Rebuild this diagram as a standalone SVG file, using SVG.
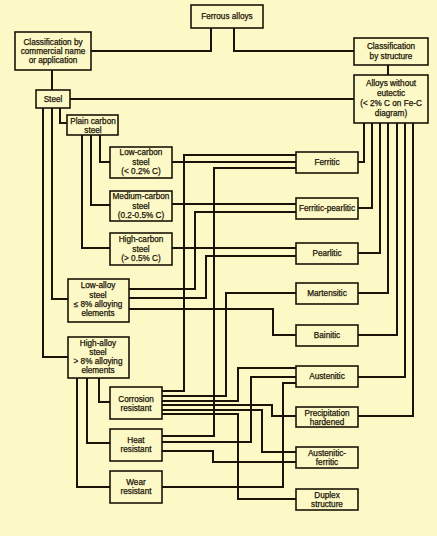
<svg xmlns="http://www.w3.org/2000/svg" width="437" height="536" viewBox="0 0 437 536">
<style>
.bg{fill:#fdf9c6}
.box{fill:#fdf9c6;stroke:#1a1408;stroke-width:1.6}
.t{font-family:"Liberation Sans",Arial,sans-serif;font-size:8.2px;fill:#1a1408;stroke:#1a1408;stroke-width:0.25;text-anchor:middle}
.c path{fill:none;stroke:#1a1408;stroke-width:2}
</style>
<rect class="bg" x="0" y="0" width="437" height="536"/>
<g class="c" id="connectors">
<path d="M211,28V51H91"/>
<path d="M234,28V51H354"/>
<path d="M52,70V90"/>
<path d="M388,65V75"/>
<path d="M70,99H354"/>
<path d="M60,108V123H67"/>
<path d="M52,108V299H68"/>
<path d="M43,108V357H68"/>
<path d="M100,135V162H110"/>
<path d="M91,135V205H110"/>
<path d="M82,135V248H110"/>
<path d="M364,123V162H358"/>
<path d="M372,123V208H358"/>
<path d="M380,123V253H358"/>
<path d="M388,123V293H358"/>
<path d="M397,123V335H358"/>
<path d="M405,123V377H358"/>
<path d="M413,123V416H358"/>
<path d="M172,162H296"/>
<path d="M172,204H296"/>
<path d="M172,248H296"/>
<path d="M162,391H184V155H296"/>
<path d="M162,436H214V168H296"/>
<path d="M129,289H195V212H296"/>
<path d="M129,298H206V256H296"/>
<path d="M129,309H273V335H296"/>
<path d="M162,396H226V293H296"/>
<path d="M162,401H238V368H296"/>
<path d="M162,442H251V377H296"/>
<path d="M162,487H283V383H296"/>
<path d="M162,405H272V416H296"/>
<path d="M162,410H262V452H296"/>
<path d="M162,451H213V462H296"/>
<path d="M162,414H238V499H296"/>
<path d="M99,378V402H110"/>
<path d="M87,378V443H110"/>
<path d="M77,378V487H110"/>
</g>
<g id="ferrous"><rect class="box" x="191" y="5" width="72" height="23"/><text class="t" x="227" y="19">Ferrous alloys</text></g>
<g id="commercial"><rect class="box" x="15" y="32" width="76" height="38"/><text class="t" x="53" y="45">Classification by</text><text class="t" x="53" y="54">commercial name</text><text class="t" x="53" y="63">or application</text></g>
<g id="bystructure"><rect class="box" x="354" y="38" width="74" height="27"/><text class="t" x="391" y="49">Classification</text><text class="t" x="391" y="59">by structure</text></g>
<g id="steel"><rect class="box" x="36" y="90" width="34" height="18"/><text class="t" x="53" y="102">Steel</text></g>
<g id="noeutectic"><rect class="box" x="354" y="75" width="74" height="48"/><text class="t" x="391" y="86">Alloys without</text><text class="t" x="391" y="96">eutectic</text><text class="t" x="391" y="106">(&lt; 2% C on Fe-C</text><text class="t" x="391" y="116">diagram)</text></g>
<g id="plaincarbon"><rect class="box" x="67" y="115" width="51" height="20"/><text class="t" x="93" y="124">Plain carbon</text><text class="t" x="93" y="133">steel</text></g>
<g id="lowcarbon"><rect class="box" x="110" y="147" width="62" height="31"/><text class="t" x="141" y="155">Low-carbon</text><text class="t" x="141" y="165">steel</text><text class="t" x="141" y="174">(&lt; 0.2% C)</text></g>
<g id="mediumcarbon"><rect class="box" x="110" y="191" width="62" height="30"/><text class="t" x="141" y="199">Medium-carbon</text><text class="t" x="141" y="209">steel</text><text class="t" x="141" y="218">(0.2-0.5% C)</text></g>
<g id="highcarbon"><rect class="box" x="110" y="233" width="62" height="32"/><text class="t" x="141" y="242">High-carbon</text><text class="t" x="141" y="252">steel</text><text class="t" x="141" y="261">(&gt; 0.5% C)</text></g>
<g id="lowalloy"><rect class="box" x="68" y="279" width="61" height="43"/><text class="t" x="98" y="288">Low-alloy</text><text class="t" x="98" y="298">steel</text><text class="t" x="98" y="307">≤ 8% alloying</text><text class="t" x="98" y="316">elements</text></g>
<g id="highalloy"><rect class="box" x="68" y="337" width="61" height="41"/><text class="t" x="98" y="346">High-alloy</text><text class="t" x="98" y="355">steel</text><text class="t" x="98" y="364">&gt; 8% alloying</text><text class="t" x="98" y="373">elements</text></g>
<g id="corrosion"><rect class="box" x="110" y="387" width="52" height="32"/><text class="t" x="136" y="402">Corrosion</text><text class="t" x="136" y="411">resistant</text></g>
<g id="heat"><rect class="box" x="110" y="429" width="52" height="32"/><text class="t" x="136" y="443">Heat</text><text class="t" x="136" y="452">resistant</text></g>
<g id="wear"><rect class="box" x="110" y="471" width="52" height="32"/><text class="t" x="136" y="485">Wear</text><text class="t" x="136" y="494">resistant</text></g>
<g id="ferritic"><rect class="box" x="296" y="152" width="62" height="21"/><text class="t" x="327" y="165">Ferritic</text></g>
<g id="ferriticpearlitic"><rect class="box" x="296" y="198" width="62" height="21"/><text class="t" x="327" y="211" textLength="56" lengthAdjust="spacingAndGlyphs">Ferritic-pearlitic</text></g>
<g id="pearlitic"><rect class="box" x="296" y="243" width="62" height="21"/><text class="t" x="327" y="256">Pearlitic</text></g>
<g id="martensitic"><rect class="box" x="296" y="283" width="62" height="21"/><text class="t" x="327" y="296">Martensitic</text></g>
<g id="bainitic"><rect class="box" x="296" y="325" width="62" height="21"/><text class="t" x="327" y="338">Bainitic</text></g>
<g id="austenitic"><rect class="box" x="296" y="366" width="62" height="21"/><text class="t" x="327" y="379">Austenitic</text></g>
<g id="precipitation"><rect class="box" x="296" y="407" width="62" height="20"/><text class="t" x="327" y="416">Precipitation</text><text class="t" x="327" y="425">hardened</text></g>
<g id="austferritic"><rect class="box" x="296" y="447" width="62" height="21"/><text class="t" x="327" y="456">Austenitic-</text><text class="t" x="327" y="465">ferritic</text></g>
<g id="duplex"><rect class="box" x="296" y="489" width="62" height="21"/><text class="t" x="327" y="498">Duplex</text><text class="t" x="327" y="507">structure</text></g>
</svg>
